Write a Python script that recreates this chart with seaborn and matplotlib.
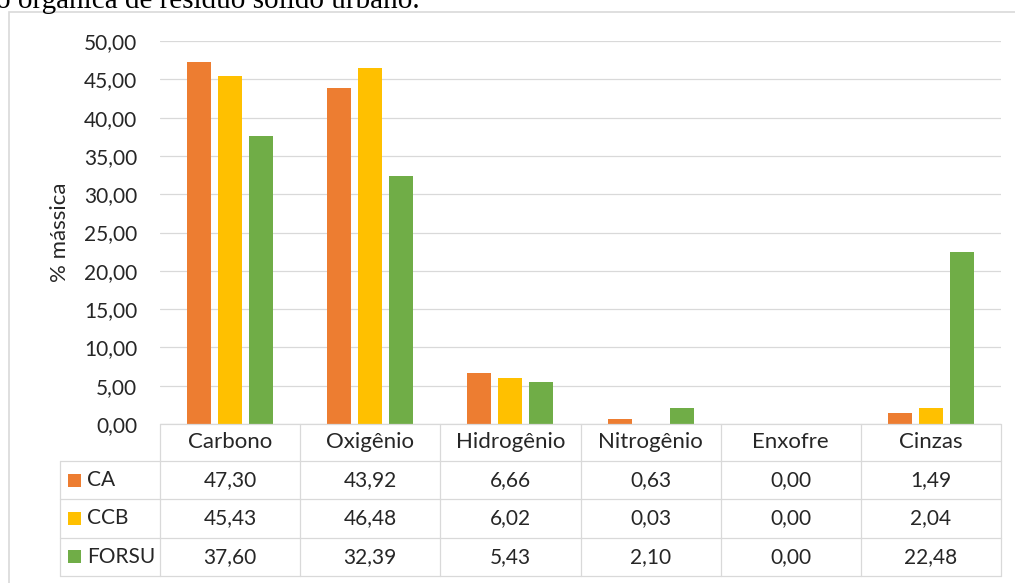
import numpy as np
import pandas as pd
import matplotlib
matplotlib.use("Agg")
import matplotlib.pyplot as plt
import matplotlib.transforms as mtransforms
from matplotlib.patches import Rectangle
from matplotlib.lines import Line2D
import seaborn as sns

# ---------------- data ----------------
categories = ["Carbono", "Oxigênio", "Hidrogênio", "Nitrogênio", "Enxofre", "Cinzas"]
series = ["CA", "CCB", "FORSU"]
ca = [47.30, 43.92, 6.66, 0.63, 0.00, 1.49]
ccb = [45.43, 46.48, 6.02, 0.03, 0.00, 2.04]
forsu = [37.60, 32.39, 5.43, 2.10, 0.00, 22.48]
colors = ["#ED7D31", "#FFC000", "#70AD47"]
yticks = [0, 5, 10, 15, 20, 25, 30, 35, 40, 45, 50]
ylabel = "% mássica"
title_fragment = "o orgânica de resíduo sólido urbano."

values = {"CA": ca, "CCB": ccb, "FORSU": forsu}
df = pd.DataFrame(
    [(c, s, values[s][i]) for s in series for i, c in enumerate(categories)],
    columns=["Elemento", "Amostra", "valor"],
)

def fmt(v):
    return f"{v:.2f}".replace(".", ",")

# ---------------- style ----------------
sns.set_theme(style="white")
plt.rcParams["font.family"] = ["Lato", "DejaVu Sans"]

W, H = 1015, 583
fig = plt.figure(figsize=(W / 100, H / 100), dpi=100)

def fx(px):
    return px / W

def fy(py):
    return 1 - py / H

GRID = "#d9d9d9"
TXT = "#262626"
FS = 15
FSW = 16

ax = fig.add_axes([fx(160), fy(424), fx(1001) - fx(160), fy(41) - fy(424)])

sns.barplot(
    data=df, x="Elemento", y="valor", hue="Amostra",
    order=categories, hue_order=series, palette=colors,
    width=0.664, gap=0.23, saturation=1, errorbar=None,
    linewidth=0, legend=False, ax=ax,
)

ax.set_xlim(-0.5, len(categories) - 0.5)
ax.set_ylim(0, 50)
ax.set_yticks(yticks)
ax.set_yticklabels([fmt(v) for v in yticks])
ax.set_xticks([])
ax.set_xlabel("")
ax.set_ylabel("")
for sp in ax.spines.values():
    sp.set_visible(False)
ax.yaxis.grid(True, color=GRID, linewidth=0.9)
ax.set_axisbelow(True)
ax.tick_params(axis="y", length=0, pad=16.5, labelsize=FS, labelcolor=TXT)

fig.text(fx(60), fy(232), ylabel, rotation=90, ha="center", va="center",
         fontsize=FSW, color=TXT)

# ---------------- data table ----------------
trans = mtransforms.blended_transform_factory(ax.transData, fig.transFigure)
cat_px = (1001 - 160) / len(categories)
x_left = -0.5 - (160 - 60) / cat_px
x_right = len(categories) - 0.5
row_edges = [424, 461, 499, 537.5, 576]
lw = 0.9

def hline(x0, x1, py):
    fig.add_artist(Line2D([x0, x1], [fy(py), fy(py)], transform=trans,
                          color=GRID, linewidth=lw))

def vline(x, py0, py1):
    fig.add_artist(Line2D([x, x], [fy(py0), fy(py1)], transform=trans,
                          color=GRID, linewidth=lw))

hline(-0.5, x_right, row_edges[0])
for py in row_edges[1:]:
    hline(x_left, x_right, py)
for k in range(len(categories) + 1):
    vline(-0.5 + k, row_edges[0], row_edges[-1])
vline(x_left, row_edges[1], row_edges[-1])

# header
hy = (row_edges[0] + row_edges[1]) / 2
for i, c in enumerate(categories):
    fig.text(i, fy(hy), c, transform=trans, ha="center", va="center",
             fontsize=FSW, color=TXT)

# rows
for r, s in enumerate(series):
    cy = (row_edges[r + 1] + row_edges[r + 2]) / 2
    fig.add_artist(Rectangle((fx(68), fy(cy + 6.5)), 13 / W, 13 / H,
                             transform=fig.transFigure, facecolor=colors[r],
                             edgecolor="none"))
    fig.text(fx(87), fy(cy), s, ha="left", va="center", fontsize=FS, color=TXT)
    for i, v in enumerate(values[s]):
        fig.text(i, fy(cy), fmt(v), transform=trans, ha="center", va="center",
                 fontsize=FS, color=TXT)

# chart area border (extends past the right/bottom edges)
fig.add_artist(Rectangle((fx(9), fy(600)), fx(1040) - fx(9), fy(12) - fy(600),
                         transform=fig.transFigure, fill=False,
                         edgecolor=GRID, linewidth=1.2))

# clipped caption above the chart (cut off at the top, as in the reference)
fig.text(fx(-4), fy(8), title_fragment, family=["Liberation Serif", "DejaVu Serif"],
         fontsize=21, ha="left", va="baseline", color="black")

fig.savefig("out.png", dpi=100)
